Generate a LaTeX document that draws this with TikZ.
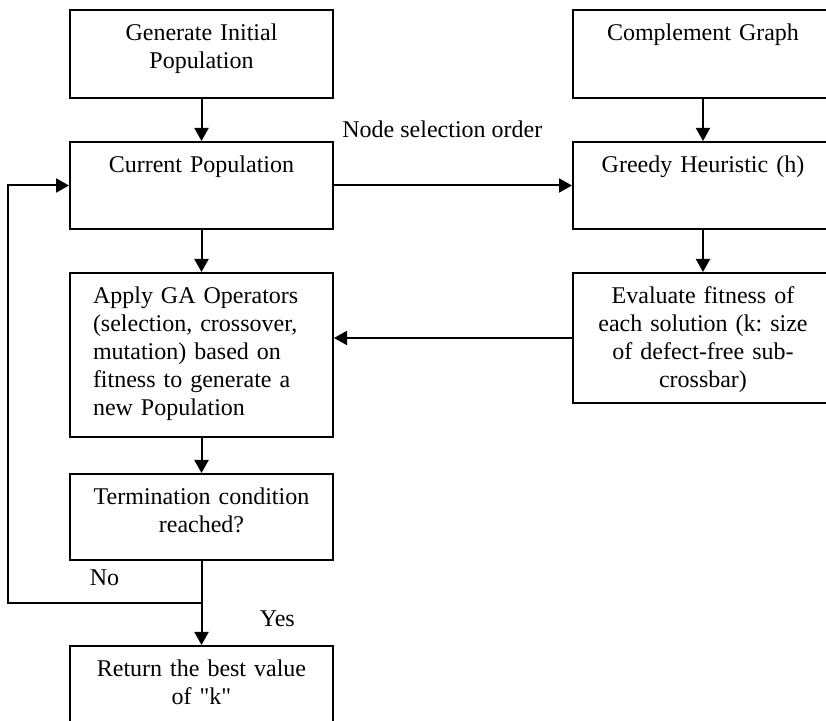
\documentclass[tikz,border=0pt]{standalone}
\usepackage{fontspec}
\setmainfont{Liberation Serif}
\frenchspacing
\usetikzlibrary{positioning,arrows.meta}
\tikzstyle{line} = [draw,line width=1pt]
\tikzstyle{flow} = [line,-{Triangle[width=7pt,length=6.5pt]}]

\begin{document}
\begin{tikzpicture}[node distance=21pt,
                font=\fontsize{12}{14}\selectfont,
                box/.style = {draw, line width=1pt, inner sep=0pt,
                  text width=131.5pt, align=center,
                  text height=15.5pt, text depth=#1},
                rbox/.style = {box=#1, text width=130pt},
                lbl/.style = {inner sep=0pt}]
                \useasboundingbox (0,0) rectangle (413pt,-360.5pt);
                \clip (0,0) rectangle (413pt,-360.5pt);
                % left column
                \node[box=28.5pt, anchor=north west] (init) at (34.5pt,-4.5pt) {Generate Initial\\Population};
                \node[box=28pt] (cur) [below = of init] {Current Population};
                \node[box=66.5pt, align=left, text width=108.5pt, inner xsep=11.5pt] (ga) [below = of cur] {Apply GA Operators\\(selection, crossover,\\mutation) based on\\fitness to generate a\\new Population};
                \node[box=27.5pt] (term) [below = 17.5pt of ga] {Termination condition\\reached?};
                \node[box=34.5pt] (ret) [below = 42pt of term] {Return the best value\\of \textquotedbl k\textquotedbl};
                % right column
                \node[rbox=28.5pt] (comp) [right = 119pt of init] {Complement Graph};
                \node[rbox=28pt] (greedy) [below = of comp] {Greedy Heuristic (h)};
                \node[rbox=49.5pt] (fit) [below = of greedy] {Evaluate fitness of\\each solution (k: size\\of defect-free sub-\\crossbar)};
                \coordinate[below = 21pt of term] (split);
                \coordinate (edge) at (4pt,0);
                \path[flow] (init) -- (cur);
                \path[flow] (cur) -- (ga);
                \path[flow] (ga) -- (term);
                \path[flow] (term) -- (ret);
                \path[flow] (comp) -- (greedy);
                \path[flow] (greedy) -- (fit);
                \path[flow] (cur) -- (greedy);
                \path[flow] (fit.west) -- (fit.west -| ga.east);
                \path[flow] (split) -- (split -| edge) |- (cur.west);
                \node[lbl, anchor=base west] (sel) at ([shift={(4pt,1.5pt)}]cur.north east) {Node selection order};
                \node[lbl, anchor=base east] (no) at ([shift={(-41pt,8.5pt)}]split) {No};
                \node[lbl, anchor=base west] (yes) at ([shift={(29pt,-12pt)}]split) {Yes};
\end{tikzpicture}
\end{document}
